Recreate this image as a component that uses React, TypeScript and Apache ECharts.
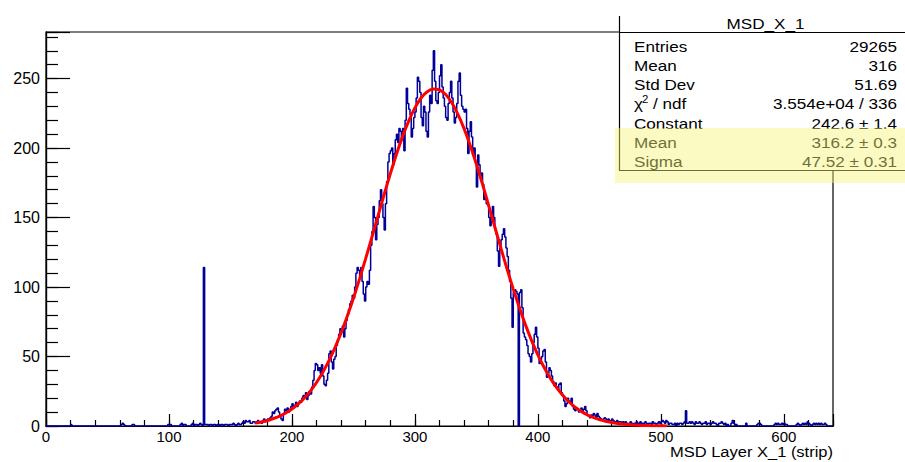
import React, { useEffect, useRef } from "react";
import * as echarts from "echarts";

// ---- data ----
const xTickLabels = [0, 100, 200, 300, 400, 500, 600];
const yTickLabels = [0, 50, 100, 150, 200, 250];

// isolated low bins (strip number, entries)
const lowBins = [20, 61, 62, 63, 70, 71, 99, 100, 101, 109, 110, 112, 113, 118, 119, 121, 122, 124, 125, 126];
const lowCounts = [1, 1, 2, 1, 1, 1, 1, 1, 1, 1, 2, 1, 1, 1, 2, 1, 1, 1, 2, 1];

// contiguous bins starting at strip 128
const mainStart = 128;
const mainCounts = [
  114, 1,
  1, 1, 0, 1, 1, 0, 1, 1, 0, 1,
  1, 0, 1, 1, 0, 1, 1, 1, 0, 1,
  1, 1, 2, 1, 0, 1, 2, 1, 1, 2,
  3, 2, 4, 3, 3, 4, 2, 2, 3, 3,
  2, 3, 4, 3, 3, 2, 4, 5, 3, 4,
  5, 4, 6, 7, 10, 9, 11, 12, 13, 10,
  8, 5, 4, 9, 12, 11, 13, 10, 12, 14,
  16, 13, 15, 17, 14, 16, 18, 17, 20, 22,
  21, 24, 19, 22, 25, 23, 28, 33, 40, 45,
  44, 40, 42, 38, 44, 36, 30, 29, 33, 38,
  52, 54, 46, 41, 48, 50, 58, 62, 66, 70,
  68, 72, 64, 70, 76, 80, 84, 88, 90, 94,
  92, 100, 110, 114, 112, 108, 114, 104, 95, 90,
  100, 104, 102, 112, 130, 140, 158, 150, 134, 145,
  150, 162, 170, 160, 150, 141, 160, 176, 190, 196,
  198, 200, 188, 196, 206, 210, 204, 214, 212, 206,
  214, 198, 220, 243, 232, 228, 224, 208, 214, 222,
  226, 236, 251, 248, 240, 222, 216, 230, 226, 212,
  208, 226, 238, 232, 256, 270, 248, 234, 232, 240,
  252, 260, 244, 236, 230, 222, 220, 232, 240, 248,
  236, 226, 218, 222, 232, 248, 254, 238, 230, 228,
  226, 228, 214, 196, 212, 219, 208, 195, 200, 190,
  172, 195, 188, 180, 182, 174, 163, 166, 160, 159,
  150, 144, 152, 158, 150, 141, 138, 126, 115, 128,
  134, 138, 142, 136, 128, 122, 112, 104, 92, 71,
  96, 98, 97, 95, 0, 96, 98, 85, 67, 64,
  62, 58, 52, 50, 46, 52, 60, 66, 71, 64,
  56, 45, 48, 50, 54, 55, 46, 35, 38, 42,
  40, 36, 32, 29, 31, 28, 26, 30, 31, 24,
  22, 18, 14, 16, 20, 18, 17, 20, 14, 12,
  11, 13, 12, 10, 11, 13, 10, 12, 14, 11,
  8, 7, 6, 8, 7, 9, 8, 6, 9, 7,
  6, 5, 4, 5, 6, 5, 4, 5, 3, 4,
  5, 4, 3, 3, 4, 2, 3, 3, 2, 3,
  2, 3, 2, 1, 2, 3, 2, 1, 2, 2,
  3, 2, 2, 3, 1, 2, 2, 3, 2, 1,
  2, 2, 1, 3, 2, 2, 1, 2, 3, 2,
  3, 4, 3, 2, 4, 3, 1, 2, 2, 1,
  1, 2, 0, 2, 1, 2, 2, 1, 2, 3,
  11, 2, 2, 3, 2, 3, 2, 1, 3, 2,
  2, 3, 2, 1, 2, 2, 3, 1, 2, 2,
  1, 2, 3, 2, 2, 1, 0, 2, 2, 3,
  2, 1, 2, 0, 1, 0, 0, 2, 4, 2,
  0, 1, 0, 0, 0, 0, 0, 0, 0, 2,
  0, 0, 0, 0, 0, 0, 0, 0, 1, 2,
  2, 1, 0, 0, 0, 0, 0, 0, 0, 0,
  0, 0, 1, 2, 1, 2, 1, 1, 2, 1,
  2, 1, 1, 0, 0, 0, 0, 0, 0, 0,
  1, 2, 1, 0, 1, 2, 1, 2, 1, 3,
  2, 1, 0, 1, 2, 1, 2, 1, 2, 1,
  2, 1, 1, 2, 1, 0, 0, 0, 0, 0,
];

// fitted gaus curve, sampled
const fitX = [
  170, 175, 180, 185, 190, 195, 200, 205, 210, 215, 220, 225, 230, 235, 240, 245, 250,
  255, 260, 265, 270, 275, 280, 285, 290, 295, 300, 305, 310, 315, 320, 325, 330, 335,
  340, 345, 350, 355, 360, 365, 370, 375, 380, 385, 390, 395, 400, 405, 410, 415, 420,
  425, 430, 435, 440, 445, 450, 455, 460, 465, 470, 475, 480, 485, 490, 495, 500, 505,
];
const fitY = [
  2.14, 2.94, 3.99, 5.37, 7.14, 9.38, 12.2, 15.7, 20.0, 25.1, 31.3, 38.5, 46.8, 56.4, 67.1, 79.0, 91.9,
  105.9, 120.6, 135.8, 151.2, 166.6, 181.5, 195.6, 208.4, 219.6, 228.9, 236.0, 240.5, 242.5, 241.8, 238.5, 232.6, 224.3,
  214.0, 201.9, 188.4, 173.9, 158.6, 143.2, 127.8, 112.8, 98.5, 85.1, 72.6, 61.3, 51.2, 42.3, 34.6, 27.9, 22.3,
  17.6, 13.8, 10.7, 8.1, 6.2, 4.6, 3.4, 2.5, 1.8, 1.3, 0.9, 0.64, 0.44, 0.30, 0.20, 0.14, 0.09,
];

const statsTitle = "MSD_X_1";
const statNames = ["Entries", "Mean", "Std Dev", "", "Constant", "Mean", "Sigma"];
const statValues = ["29265", "316", "51.69", "3.554e+04 / 336", "242.6 \u00b1 1.4", "316.2 \u00b1 0.3", "47.52 \u00b1 0.31"];
const xTitle = "MSD Layer X_1 (strip)";

const NBINS = 640;
const FONT = '"Liberation Sans", Arial, Helvetica, sans-serif';

function buildHist(): number[][] {
  const c = new Array(NBINS).fill(0);
  lowBins.forEach((b, i) => (c[b] = lowCounts[i]));
  mainCounts.forEach((v, i) => {
    if (mainStart + i < NBINS) c[mainStart + i] = v;
  });
  const pts: number[][] = c.map((v, i) => [i, v]);
  pts.push([NBINS, c[NBINS - 1]]);
  return pts;
}

function txt(x: number, y: number, text: string, align: string, size = 15, sx = 1.14, fill = "#000") {
  return {
    type: "text",
    x,
    y,
    scaleX: sx,
    z: 120,
    style: {
      text,
      x: 0,
      y: 0,
      font: `${size}px ${FONT}`,
      fill,
      align,
      textAlign: align,
      verticalAlign: "middle",
      textVerticalAlign: "middle",
    },
  };
}

export default function App() {
  const ref = useRef<HTMLDivElement>(null);
  useEffect(() => {
    if (!ref.current) return;
    const chart = echarts.init(ref.current, undefined, { renderer: "svg" });
    const rowY0 = 46.3;
    const rowDy = 19.2;
    const graphics: any[] = [
      { type: "rect", z: 110, shape: { x: 619, y: 14, width: 300, height: 156 }, style: { fill: "#fff" } },
      { type: "line", z: 115, shape: { x1: 619.5, y1: 16, x2: 619.5, y2: 170.5 }, style: { stroke: "#000", lineWidth: 1.2 } },
      { type: "line", z: 115, shape: { x1: 619, y1: 170.5, x2: 905, y2: 170.5 }, style: { stroke: "#000", lineWidth: 1.2 } },
      { type: "line", z: 115, shape: { x1: 619, y1: 32.5, x2: 905, y2: 32.5 }, style: { stroke: "#000", lineWidth: 1.2 } },
      txt(765.5, 23.5, statsTitle, "center"),
    ];
    statNames.forEach((n, i) => {
      const y = rowY0 + i * rowDy;
      if (n) graphics.push(txt(634, y, n, "left"));
      graphics.push(txt(897, y, statValues[i], "right"));
    });
    const chiY = rowY0 + 3 * rowDy;
    graphics.push(txt(634, chiY, "\u03c7", "left"));
    graphics.push(txt(642, chiY - 5, "2", "left", 10, 1.14));
    graphics.push(txt(653, chiY, "/ ndf", "left"));
    graphics.push({
      type: "rect",
      z: 130,
      shape: { x: 615, y: 128, width: 295, height: 55 },
      style: { fill: "rgba(245,245,120,0.45)" },
    });
    graphics.push(txt(833, 452, xTitle, "right", 15, 1.1));

    const axisLine = { show: true, onZero: false, lineStyle: { color: "#000", width: 1.2 } };
    chart.setOption({
      animation: false,
      backgroundColor: "#fff",
      grid: {
        left: 46,
        right: 72,
        top: 32,
        bottom: 36,
        show: true,
        borderColor: "#000",
        borderWidth: 1.2,
        backgroundColor: "transparent",
        containLabel: false,
      },
      xAxis: [
        {
          type: "value",
          position: "bottom",
          min: 0,
          max: NBINS,
          interval: 20,
          axisLine,
          axisTick: { show: true, inside: true, length: 6, lineStyle: { color: "#000", width: 1.2 } },
          axisLabel: { show: false },
          splitLine: { show: false },
        },
        {
          type: "value",
          position: "bottom",
          min: 0,
          max: NBINS,
          interval: 100,
          axisLine,
          axisTick: { show: true, inside: true, length: 12, lineStyle: { color: "#000", width: 1.2 } },
          axisLabel: {
            show: true,
            margin: 3,
            color: "#000",
            fontFamily: FONT,
            fontSize: 15,
            formatter: (v: number) => (xTickLabels.includes(v) ? String(v) : ""),
          },
          splitLine: { show: false },
        },
      ],
      yAxis: [
        {
          type: "value",
          position: "left",
          min: 0,
          max: 283.5,
          interval: 10,
          axisLine,
          axisTick: { show: true, inside: true, length: 12, lineStyle: { color: "#000", width: 1.2 } },
          axisLabel: { show: false },
          splitLine: { show: false },
        },
        {
          type: "value",
          position: "left",
          min: 0,
          max: 283.5,
          interval: 50,
          axisLine,
          axisTick: { show: true, inside: true, length: 24, lineStyle: { color: "#000", width: 1.2 } },
          axisLabel: {
            show: true,
            margin: 6,
            color: "#000",
            fontFamily: FONT,
            fontSize: 16,
            formatter: (v: number) => (yTickLabels.includes(v) ? String(v) : ""),
          },
          splitLine: { show: false },
        },
      ],
      series: [
        {
          type: "line",
          name: "hist",
          xAxisIndex: 0,
          yAxisIndex: 0,
          step: "end",
          data: buildHist(),
          showSymbol: false,
          symbol: "none",
          lineStyle: { color: "#000099", width: 1.5 },
          z: 3,
        },
        {
          type: "line",
          name: "fit",
          xAxisIndex: 0,
          yAxisIndex: 0,
          data: fitX.map((x, i) => [x, fitY[i]]),
          smooth: 0.3,
          showSymbol: false,
          symbol: "none",
          lineStyle: { color: "#ff0000", width: 3 },
          z: 4,
        },
      ],
      graphic: graphics,
    });
    return () => chart.dispose();
  }, []);
  return <div ref={ref} style={{ position: "absolute", left: 0, top: 0, width: 905, height: 462 }} />;
}
